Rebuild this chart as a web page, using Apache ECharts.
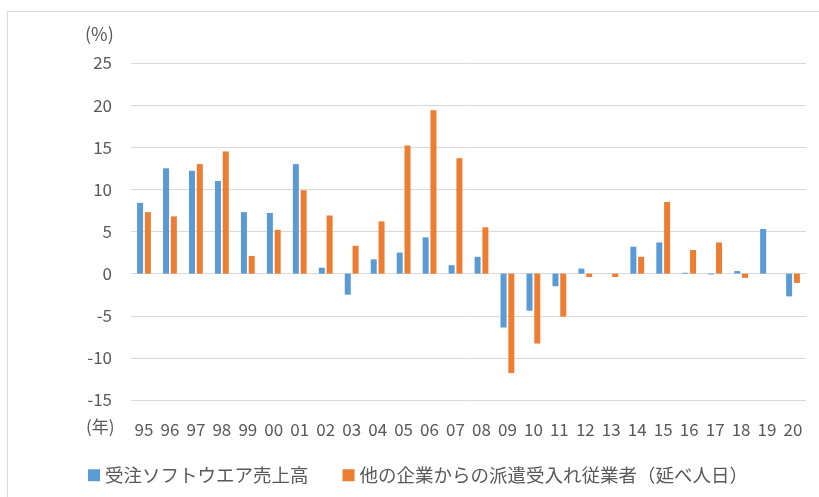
<!DOCTYPE html>
<html><head><meta charset="utf-8">
<script src="https://cdn.jsdelivr.net/npm/echarts@6/dist/echarts.min.js"></script>
<style>
html,body{margin:0;padding:0;background:#fff;}
#frame{position:absolute;left:7px;top:11px;width:840px;height:520px;border:1px solid #d9d9d9;}
#c{position:absolute;left:0;top:0;width:819px;height:497px;}
</style></head>
<body><div id="frame"></div><div id="c"></div>
<script>
const categories = ['95','96','97','98','99','00','01','02','03','04','05','06','07','08','09','10','11','12','13','14','15','16','17','18','19','20'];
const softwareSales = [8.4,12.5,12.2,11.0,7.3,7.2,13.0,0.7,-2.5,1.7,2.5,4.3,1.0,2.0,-6.4,-4.4,-1.5,0.6,0,3.2,3.7,0.1,-0.1,0.3,5.3,-2.7];
const dispatchedWorkers = [7.3,6.8,13.0,14.5,2.1,5.2,9.9,6.9,3.3,6.2,15.2,19.4,13.7,5.5,-11.8,-8.3,-5.1,-0.4,-0.4,2.0,8.5,2.8,3.7,-0.5,0,-1.1];
const seriesNames = ['受注ソフトウエア売上高','他の企業からの派遣受入れ従業者（延べ人日）'];

const font = '"Noto Sans CJK JP","Noto Sans",sans-serif';
const chart = echarts.init(document.getElementById('c'));
chart.setOption({
  animation:false,
  textStyle:{fontFamily:font},
  grid:{left:131,right:13,top:63,bottom:97},
  legend:{
    left:83, top:461, itemWidth:12, itemHeight:12, itemGap:34,
    icon:'rect',
    textStyle:{fontSize:18.5,color:'#595959',fontFamily:font},
    data:seriesNames
  },
  xAxis:{
    type:'category', data:categories,
    axisLine:{show:false}, axisTick:{show:false},
    axisLabel:{color:'#595959',fontSize:17,margin:21,interval:0,fontFamily:font}
  },
  yAxis:{
    type:'value', min:-15, max:25, interval:5,
    axisLine:{show:false}, axisTick:{show:false},
    axisLabel:{color:'#595959',fontSize:17,margin:19,fontFamily:font},
    splitLine:{lineStyle:{color:'#d9d9d9',width:1}}
  },
  graphic:[
    {type:'text',left:85,top:25,style:{text:'(%)',fontSize:18,fill:'#595959',fontFamily:font}},
    {type:'text',left:86,top:418,style:{text:'(年)',fontSize:17,fill:'#595959',fontFamily:font}}
  ],
  series:[
    {name:seriesNames[0],type:'bar',data:softwareSales,barWidth:6,barGap:'30%',
     itemStyle:{color:'#5B9BD5'}},
    {name:seriesNames[1],type:'bar',data:dispatchedWorkers,barWidth:6,barGap:'30%',
     itemStyle:{color:'#ED7D31'}}
  ]
});
</script></body></html>
